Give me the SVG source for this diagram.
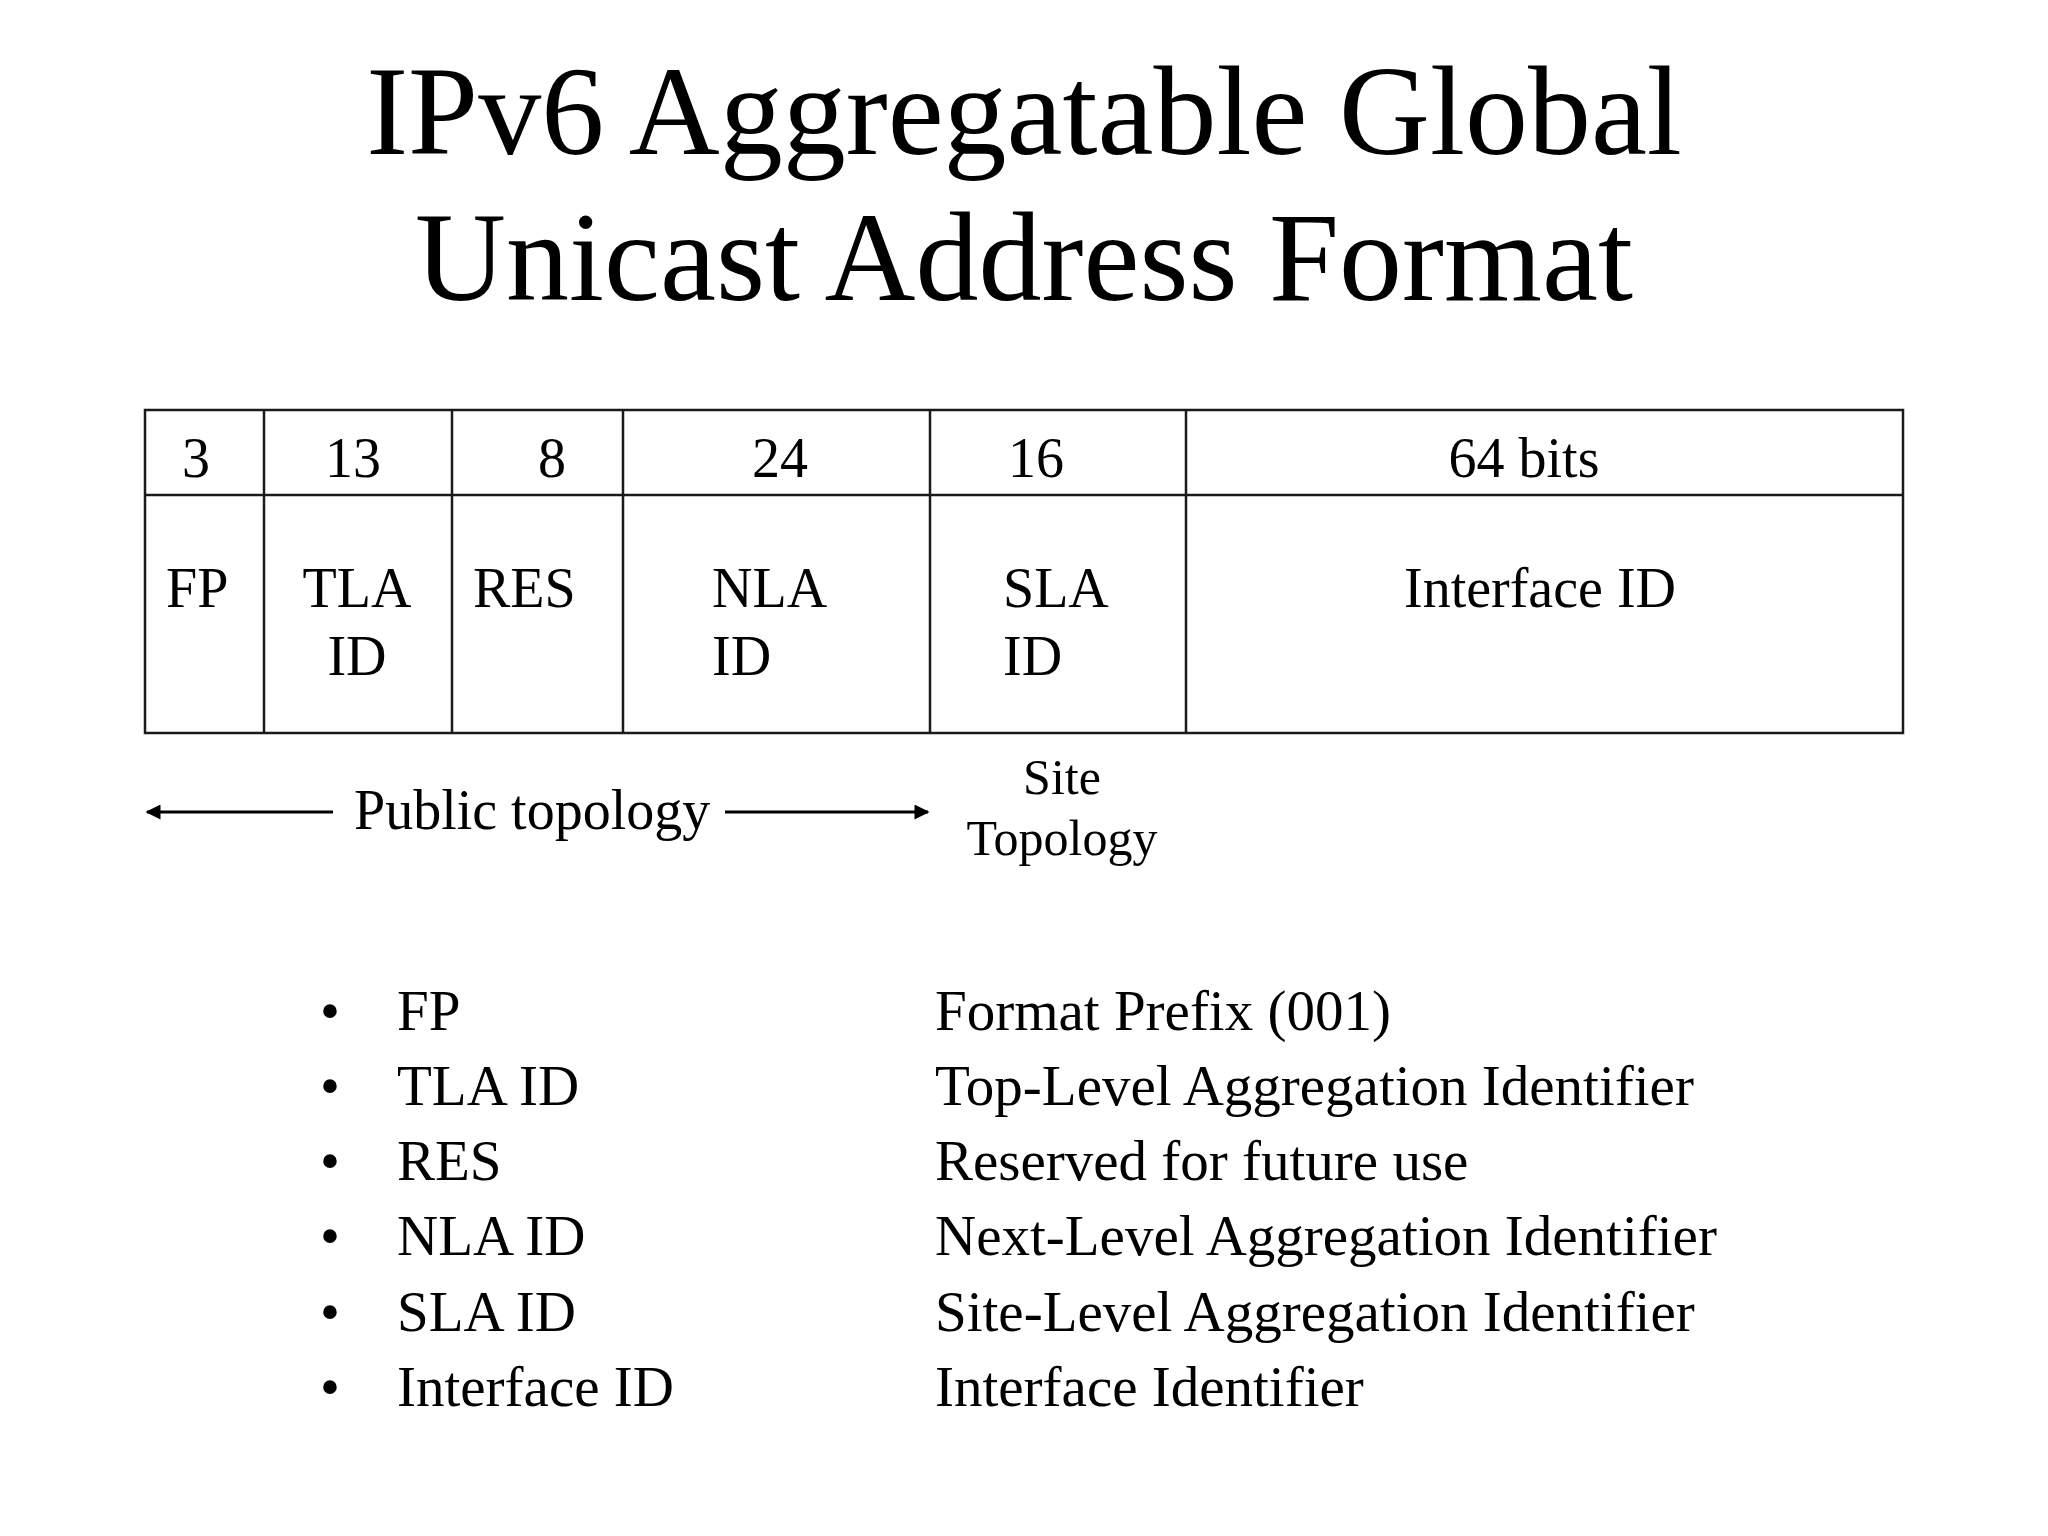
<svg xmlns="http://www.w3.org/2000/svg" width="2048" height="1536" viewBox="0 0 2048 1536">
<style>
text{font-family:"Liberation Serif","Times New Roman",serif;fill:#000}
.title{font-size:126px;text-anchor:middle}
.cell{font-size:56px}
.mid{text-anchor:middle}
.grid{fill:none;stroke:#1a1a1a;stroke-width:2.5}
.conn{stroke:#000;stroke-width:3;fill:none}
.site{font-size:50px;text-anchor:middle}
.list{font-size:57px}
</style>
<defs>
<marker id="ah" viewBox="0 0 10 10" refX="9" refY="5" markerWidth="17" markerHeight="15" markerUnits="userSpaceOnUse" orient="auto-start-reverse">
<path d="M0,0 L10,5 L0,10 z" fill="#000"/>
</marker>
</defs>
<rect width="2048" height="1536" fill="#fff"/>
<g id="title">
<text class="title" x="1024" y="154">IPv6 Aggregatable Global</text>
<text class="title" x="1024" y="300">Unicast Address Format</text>
</g>
<g id="table">
<rect class="grid" x="145" y="410" width="1758" height="323"/>
<line class="grid" x1="145" y1="495" x2="1903" y2="495"/>
<line class="grid" x1="264" y1="410" x2="264" y2="733"/>
<line class="grid" x1="452" y1="410" x2="452" y2="733"/>
<line class="grid" x1="623" y1="410" x2="623" y2="733"/>
<line class="grid" x1="930" y1="410" x2="930" y2="733"/>
<line class="grid" x1="1186" y1="410" x2="1186" y2="733"/>
</g>
<g id="field-fp">
<text class="cell mid" x="196" y="477">3</text>
<text class="cell" x="166" y="607">FP</text>
</g>
<g id="field-tla">
<text class="cell mid" x="353" y="477">13</text>
<text class="cell mid" x="357" y="607">TLA</text>
<text class="cell mid" x="357" y="675">ID</text>
</g>
<g id="field-res">
<text class="cell mid" x="552" y="477">8</text>
<text class="cell" x="473" y="607">RES</text>
</g>
<g id="field-nla">
<text class="cell mid" x="780" y="477">24</text>
<text class="cell" x="712" y="607">NLA</text>
<text class="cell" x="712" y="675">ID</text>
</g>
<g id="field-sla">
<text class="cell mid" x="1036" y="477">16</text>
<text class="cell" x="1003" y="607">SLA</text>
<text class="cell" x="1003" y="675">ID</text>
</g>
<g id="field-interface">
<text class="cell mid" x="1524" y="477">64 bits</text>
<text class="cell mid" x="1540" y="607">Interface ID</text>
</g>
<g id="public-topology">
<text class="cell" x="354" y="829">Public topology</text>
</g>
<g id="site-topology">
<text class="site" x="1062" y="794">Site</text>
<text class="site" x="1062" y="855">Topology</text>
</g>
<g id="connectors">
<line class="conn" x1="333" y1="812" x2="147" y2="812" marker-end="url(#ah)"/>
<line class="conn" x1="725" y1="812" x2="928" y2="812" marker-end="url(#ah)"/>
</g>
<g id="legend">
<text class="list mid" x="330" y="1030">•</text>
<text class="list mid" x="330" y="1105">•</text>
<text class="list mid" x="330" y="1180">•</text>
<text class="list mid" x="330" y="1255">•</text>
<text class="list mid" x="330" y="1331">•</text>
<text class="list mid" x="330" y="1406">•</text>
<text class="list" x="397" y="1030">FP</text>
<text class="list" x="397" y="1105">TLA ID</text>
<text class="list" x="397" y="1180">RES</text>
<text class="list" x="397" y="1255">NLA ID</text>
<text class="list" x="397" y="1331">SLA ID</text>
<text class="list" x="397" y="1406">Interface ID</text>
<text class="list" x="935" y="1030">Format Prefix (001)</text>
<text class="list" x="935" y="1105">Top-Level Aggregation Identifier</text>
<text class="list" x="935" y="1180">Reserved for future use</text>
<text class="list" x="935" y="1255">Next-Level Aggregation Identifier</text>
<text class="list" x="935" y="1331">Site-Level Aggregation Identifier</text>
<text class="list" x="935" y="1406">Interface Identifier</text>
</g>
</svg>
